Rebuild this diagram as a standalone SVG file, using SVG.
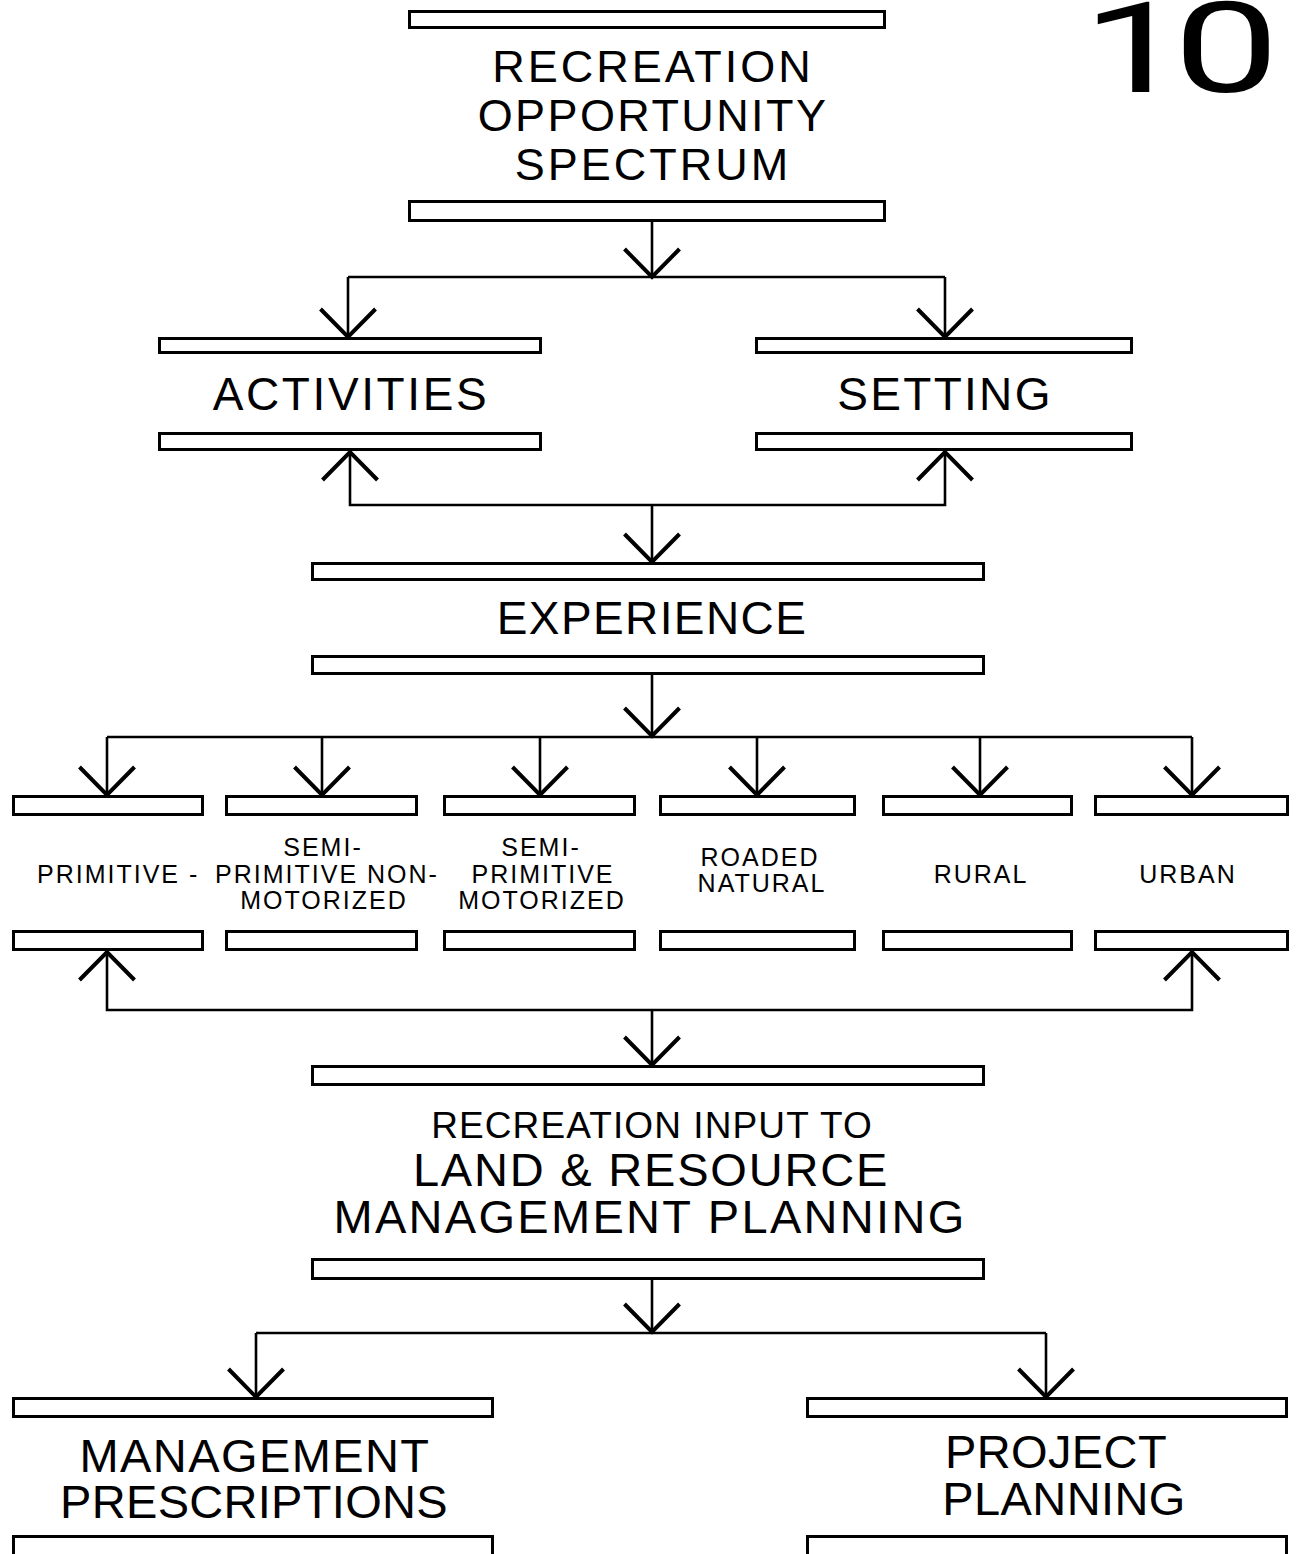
<svg xmlns="http://www.w3.org/2000/svg" xmlns:xlink="http://www.w3.org/1999/xlink" width="1296" height="1554" viewBox="0 0 1296 1554">
<style>
.bar{fill:#fff;stroke:#000;stroke-width:3}
.ln{fill:none;stroke:#000;stroke-width:2.6}
.hd{fill:none;stroke:#000;stroke-width:4;stroke-linejoin:miter;stroke-miterlimit:10}
.big{font-family:"Liberation Sans",Arial,Helvetica,sans-serif;font-size:46px;letter-spacing:2px;text-anchor:middle;fill:#000}
.sm{font-family:"Liberation Sans",Arial,Helvetica,sans-serif;font-size:25px;letter-spacing:2px;text-anchor:middle;fill:#000}
.num{font-family:Roboto,"Liberation Sans",Arial,sans-serif;font-size:126px;letter-spacing:-10px;fill:#000}
</style>
<defs>
<path id="dn" class="hd" d="M-27.5,-28 L0,0 L27.5,-28"/>
<path id="up" class="hd" d="M-27.5,28 L0,0 L27.5,28"/>
</defs>
<rect width="1296" height="1554" fill="#fff"/>

<text id="pagenum" class="num" transform="translate(1082,92) scale(1.5,1)">10</text>

<g id="connectors">
<path class="ln" d="M652,222 V277 M348,277 H945 M348,277 V337 M945,277 V337"/>
<path class="ln" d="M350,451 V505 H945 V451 M652,505 V562"/>
<path class="ln" d="M652,675 V737 M107,737 H1192 M107,737 V795 M322,737 V795 M540,737 V795 M757,737 V795 M980,737 V795 M1192,737 V795"/>
<path class="ln" d="M107,951 V1010 H1192 V951 M652,1010 V1065"/>
<path class="ln" d="M652,1280 V1333 M256,1333 H1046 M256,1333 V1397 M1046,1333 V1397"/>
<use xlink:href="#dn" x="652" y="277"/>
<use xlink:href="#dn" x="348" y="337"/>
<use xlink:href="#dn" x="945" y="337"/>
<use xlink:href="#up" x="350" y="452"/>
<use xlink:href="#up" x="945" y="452"/>
<use xlink:href="#dn" x="652" y="562"/>
<use xlink:href="#dn" x="652" y="736"/>
<use xlink:href="#dn" x="107" y="795"/>
<use xlink:href="#dn" x="322" y="795"/>
<use xlink:href="#dn" x="540" y="795"/>
<use xlink:href="#dn" x="757" y="795"/>
<use xlink:href="#dn" x="980" y="795"/>
<use xlink:href="#dn" x="1192" y="795"/>
<use xlink:href="#up" x="107" y="952"/>
<use xlink:href="#up" x="1192" y="952"/>
<use xlink:href="#dn" x="652" y="1065"/>
<use xlink:href="#dn" x="652" y="1332"/>
<use xlink:href="#dn" x="256" y="1397"/>
<use xlink:href="#dn" x="1046" y="1397"/>
</g>

<g id="ros">
<rect class="bar" x="409.5" y="11.5" width="475" height="16"/>
<text class="big" x="653" y="82" style="font-size:45px;letter-spacing:3px">RECREATION</text>
<text class="big" x="653" y="131" style="font-size:45px;letter-spacing:2.4px">OPPORTUNITY</text>
<text class="big" x="653" y="180" style="font-size:45px;letter-spacing:3px">SPECTRUM</text>
<rect class="bar" x="409.5" y="201.5" width="475" height="19"/>
</g>

<g id="activities">
<rect class="bar" x="159.5" y="338.5" width="381" height="14"/>
<text class="big" x="351" y="410" style="letter-spacing:2.6px">ACTIVITIES</text>
<rect class="bar" x="159.5" y="433.5" width="381" height="16"/>
</g>

<g id="setting">
<rect class="bar" x="756.5" y="338.5" width="375" height="14"/>
<text class="big" x="945" y="410" style="letter-spacing:2.3px">SETTING</text>
<rect class="bar" x="756.5" y="433.5" width="375" height="16"/>
</g>

<g id="experience">
<rect class="bar" x="312.5" y="563.5" width="671" height="16"/>
<text class="big" x="652" y="634" style="letter-spacing:1.4px">EXPERIENCE</text>
<rect class="bar" x="312.5" y="656.5" width="671" height="17"/>
</g>

<g id="primitive">
<rect class="bar" x="13.5" y="796.5" width="189" height="18"/>
<text class="sm" x="37" y="883" style="text-anchor:start">PRIMITIVE -</text>
<rect class="bar" x="13.5" y="931.5" width="189" height="18"/>
</g>

<g id="spnm">
<rect class="bar" x="226.5" y="796.5" width="190" height="18"/>
<text class="sm" x="323" y="856">SEMI-</text>
<text class="sm" x="327" y="883">PRIMITIVE NON-</text>
<text class="sm" x="324" y="909">MOTORIZED</text>
<rect class="bar" x="226.5" y="931.5" width="190" height="18"/>
</g>

<g id="spm">
<rect class="bar" x="444.5" y="796.5" width="190" height="18"/>
<text class="sm" x="541" y="856">SEMI-</text>
<text class="sm" x="543" y="883">PRIMITIVE</text>
<text class="sm" x="542" y="909">MOTORIZED</text>
<rect class="bar" x="444.5" y="931.5" width="190" height="18"/>
</g>

<g id="roaded">
<rect class="bar" x="660.5" y="796.5" width="194" height="18"/>
<text class="sm" x="760" y="866">ROADED</text>
<text class="sm" x="762" y="892">NATURAL</text>
<rect class="bar" x="660.5" y="931.5" width="194" height="18"/>
</g>

<g id="rural">
<rect class="bar" x="883.5" y="796.5" width="188" height="18"/>
<text class="sm" x="981" y="883">RURAL</text>
<rect class="bar" x="883.5" y="931.5" width="188" height="18"/>
</g>

<g id="urban">
<rect class="bar" x="1095.5" y="796.5" width="192" height="18"/>
<text class="sm" x="1188" y="883">URBAN</text>
<rect class="bar" x="1095.5" y="931.5" width="192" height="18"/>
</g>

<g id="lrmp">
<rect class="bar" x="312.5" y="1066.5" width="671" height="18"/>
<text class="big" x="652" y="1138" style="font-size:37px;letter-spacing:1.1px">RECREATION INPUT TO</text>
<text class="big" x="651" y="1186" style="font-size:47px;letter-spacing:1.8px">LAND &amp; RESOURCE</text>
<text class="big" x="650" y="1233" style="font-size:47px;letter-spacing:2.3px">MANAGEMENT PLANNING</text>
<rect class="bar" x="312.5" y="1259.5" width="671" height="19"/>
</g>

<g id="prescriptions">
<rect class="bar" x="13.5" y="1398.5" width="479" height="18"/>
<text class="big" x="255" y="1472" style="font-size:47px;letter-spacing:1.4px">MANAGEMENT</text>
<text class="big" x="254" y="1518" style="font-size:47px;letter-spacing:0.3px">PRESCRIPTIONS</text>
<rect class="bar" x="13.5" y="1536.5" width="479" height="22"/>
</g>

<g id="project">
<rect class="bar" x="807.5" y="1398.5" width="479" height="18"/>
<text class="big" x="1056" y="1468" style="font-size:47px;letter-spacing:0.4px">PROJECT</text>
<text class="big" x="1064" y="1515" style="font-size:47px;letter-spacing:0.4px">PLANNING</text>
<rect class="bar" x="807.5" y="1536.5" width="479" height="22"/>
</g>
</svg>
